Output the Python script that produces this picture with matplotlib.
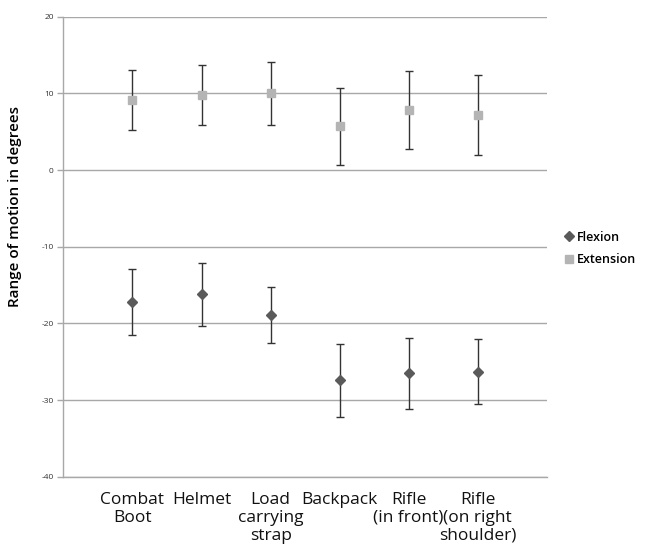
import matplotlib.pyplot as plt
import numpy as np

categories = ["Combat\nBoot", "Helmet", "Load\ncarrying\nstrap", "Backpack",
              "Rifle\n(in front)", "Rifle\n(on right\nshoulder)"]

flexion = [-17.2, -16.2, -18.9, -27.4, -26.5, -26.3]
flexion_err = [4.3, 4.1, 3.7, 4.75, 4.6, 4.25]

extension = [9.1, 9.8, 10.0, 5.7, 7.8, 7.2]
extension_err = [3.9, 3.9, 4.1, 5.0, 5.1, 5.2]

yticks = [20, 10, 0, -10, -20, -30, -40]

plt.rcParams['font.family'] = ['Open Sans', 'DejaVu Sans']

fig = plt.figure(figsize=(6.54, 5.59), dpi=100)
ax = fig.add_axes([0.097, 0.147, 0.739, 0.823])

x = np.arange(1, len(categories) + 1)

ax.errorbar(x, flexion, yerr=flexion_err, fmt="D", color="#5a5a5a",
            markersize=5, ecolor="#333333", elinewidth=1, capsize=3,
            capthick=1, label="Flexion", zorder=3)
ax.errorbar(x, extension, yerr=extension_err, fmt="s", color="#b4b4b4",
            markersize=6, ecolor="#333333", elinewidth=1, capsize=3,
            capthick=1, label="Extension", zorder=3)

ax.set_xlim(0, 7)
ax.set_ylim(-40, 20)
ax.set_yticks(yticks)
ax.set_yticklabels([str(v) for v in yticks], fontsize=6, color="#333333")
ax.yaxis.grid(True, color="#a8a8a8", linewidth=1)
ax.set_axisbelow(True)

ax.set_xticks(x)
ax.set_xticklabels(categories, fontsize=12.5, linespacing=1.15, color="#111111")
ax.tick_params(axis="x", length=0, pad=11)
ax.tick_params(axis="y", length=4, color="#a8a8a8", width=1, pad=3)

for side in ["top", "right"]:
    ax.spines[side].set_visible(False)
for side in ["left", "bottom"]:
    ax.spines[side].set_color("#a8a8a8")
    ax.spines[side].set_linewidth(1)

ax.set_ylabel("Range of motion in degrees", fontsize=11, fontweight="semibold")
ax.yaxis.set_label_coords(-0.085, 0.587)

handles, labels = ax.get_legend_handles_labels()
handles = [h[0] for h in handles]
fig.legend(handles, labels, loc="center left", bbox_to_anchor=(0.841, 0.556),
           frameon=False, handletextpad=0.05, handlelength=1.2,
           labelspacing=0.75, prop={"weight": "semibold", "size": 9})

fig.savefig("out.png", dpi=100)
